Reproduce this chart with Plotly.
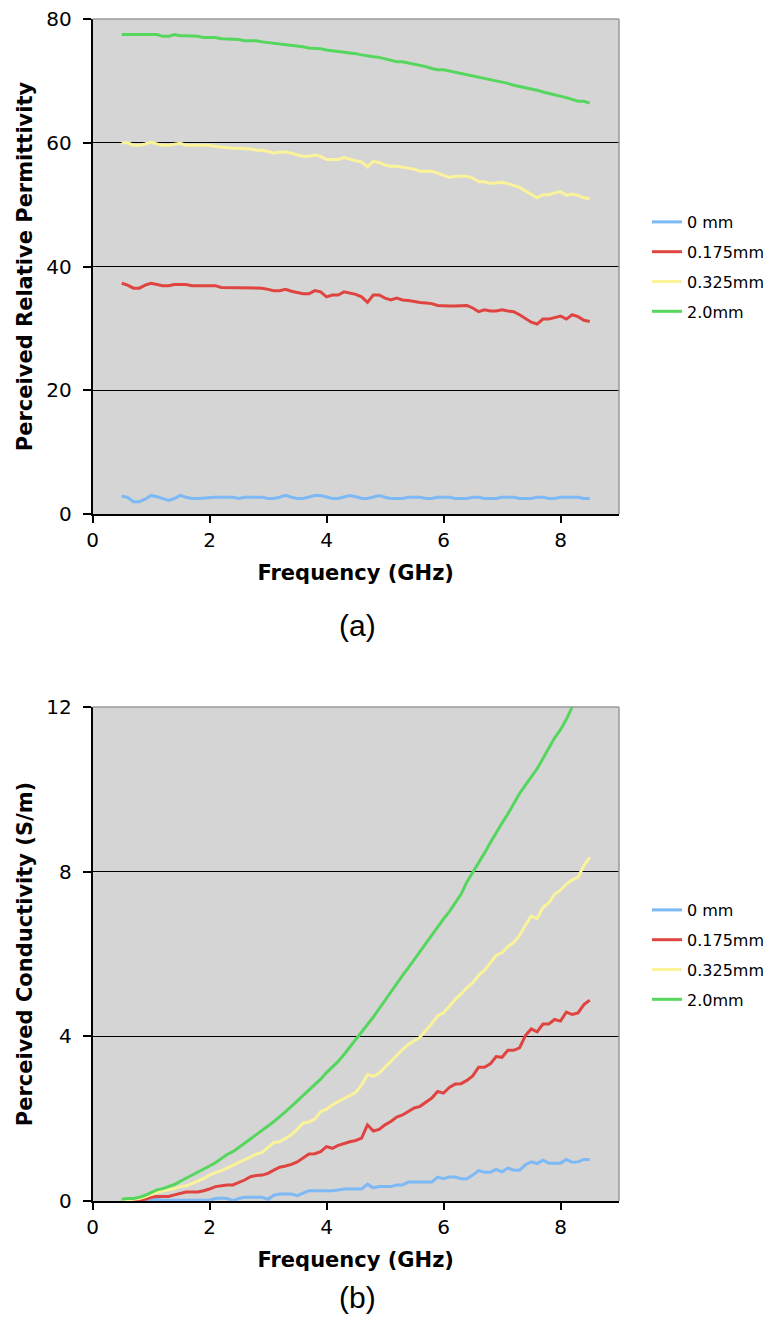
import plotly.graph_objects as go

# ---------------- data ----------------
freq = [0.5, 0.6, 0.7, 0.8, 0.9, 1.0, 1.1, 1.2, 1.3, 1.4,
        1.5, 1.6, 1.7, 1.8, 1.9, 2.0, 2.1, 2.2, 2.3, 2.4,
        2.5, 2.6, 2.7, 2.8, 2.9, 3.0, 3.1, 3.2, 3.3, 3.4,
        3.5, 3.6, 3.7, 3.8, 3.9, 4.0, 4.1, 4.2, 4.3, 4.4,
        4.5, 4.6, 4.7, 4.8, 4.9, 5.0, 5.1, 5.2, 5.3, 5.4,
        5.5, 5.6, 5.7, 5.8, 5.9, 6.0, 6.1, 6.2, 6.3, 6.4,
        6.5, 6.6, 6.7, 6.8, 6.9, 7.0, 7.1, 7.2, 7.3, 7.4,
        7.5, 7.6, 7.7, 7.8, 7.9, 8.0, 8.1, 8.2, 8.3, 8.4,
        8.5]

series_names = ["0 mm", "0.175mm", "0.325mm", "2.0mm"]

# (a) perceived relative permittivity
perm_0mm = [2.9, 2.7, 2.0, 2.0, 2.4, 3.0, 2.8, 2.5, 2.2, 2.5,
            3.0, 2.7, 2.5, 2.5, 2.6, 2.7, 2.7, 2.7, 2.7, 2.7,
            2.5, 2.7, 2.7, 2.7, 2.7, 2.5, 2.5, 2.7, 3.0, 2.7,
            2.5, 2.5, 2.7, 3.0, 3.0, 2.8, 2.5, 2.5, 2.7, 3.0,
            2.8, 2.5, 2.5, 2.7, 3.0, 2.7, 2.5, 2.5, 2.5, 2.7,
            2.7, 2.7, 2.5, 2.5, 2.7, 2.7, 2.7, 2.5, 2.5, 2.5,
            2.7, 2.7, 2.5, 2.5, 2.5, 2.7, 2.7, 2.7, 2.5, 2.5,
            2.5, 2.7, 2.7, 2.5, 2.5, 2.7, 2.7, 2.7, 2.7, 2.5,
            2.5]
perm_0175 = [37.3, 37.0, 36.5, 36.5, 37.0, 37.3, 37.1, 36.9, 36.9, 37.1,
             37.1, 37.1, 36.9, 36.9, 36.9, 36.9, 36.9, 36.6, 36.6, 36.6,
             36.6, 36.6, 36.6, 36.6, 36.5, 36.3, 36.1, 36.1, 36.3, 36.0,
             35.8, 35.6, 35.6, 36.1, 35.9, 35.1, 35.4, 35.4, 35.9, 35.7,
             35.5, 35.1, 34.2, 35.4, 35.4, 34.9, 34.6, 34.9, 34.6, 34.5,
             34.3, 34.2, 34.1, 34.0, 33.7, 33.6, 33.6, 33.6, 33.7, 33.7,
             33.3, 32.7, 33.0, 32.8, 32.8, 33.0, 32.8, 32.7, 32.2, 31.6,
             31.0, 30.7, 31.5, 31.5, 31.8, 32.0, 31.5, 32.2, 31.9, 31.3,
             31.1]
perm_0325 = [60.0, 60.0, 59.6, 59.6, 59.8, 60.1, 59.8, 59.6, 59.6, 59.8,
             59.9, 59.6, 59.6, 59.6, 59.6, 59.6, 59.4, 59.3, 59.1, 59.1,
             59.1, 59.1, 59.0, 58.8, 58.8, 58.6, 58.3, 58.5, 58.5, 58.3,
             58.1, 57.8, 57.8, 58.0, 57.8, 57.3, 57.3, 57.3, 57.6, 57.3,
             57.1, 56.9, 56.1, 57.0, 56.8, 56.4, 56.2, 56.2, 56.1, 55.9,
             55.7, 55.4, 55.4, 55.4, 55.1, 54.8, 54.4, 54.6, 54.6, 54.6,
             54.3, 53.7, 53.7, 53.4, 53.5, 53.6, 53.4, 53.1, 52.8, 52.2,
             51.6, 51.1, 51.6, 51.6, 51.9, 52.1, 51.5, 51.7, 51.5, 51.1,
             51.0]
perm_20 = [77.5, 77.5, 77.5, 77.5, 77.5, 77.5, 77.5, 77.2, 77.2, 77.5,
           77.3, 77.3, 77.3, 77.2, 77.0, 77.0, 77.0, 76.8, 76.8, 76.8,
           76.7, 76.5, 76.5, 76.5, 76.3, 76.2, 76.1, 76.0, 75.9, 75.7,
           75.6, 75.5, 75.3, 75.3, 75.2, 75.0, 74.9, 74.8, 74.6, 74.5,
           74.4, 74.2, 74.0, 73.9, 73.8, 73.6, 73.3, 73.1, 73.1, 72.9,
           72.8, 72.5, 72.3, 72.0, 71.8, 71.8, 71.6, 71.4, 71.2, 71.0,
           70.9, 70.7, 70.5, 70.3, 70.0, 69.9, 69.6, 69.3, 69.1, 68.9,
           68.8, 68.5, 68.2, 68.0, 67.8, 67.5, 67.3, 67.0, 66.7, 66.7,
           66.4]

# (b) perceived conductivity (S/m)
cond_0mm = [0.0, 0.0, 0.0, 0.0, 0.0, 0.02, 0.04, 0.02, 0.02, 0.02,
            0.02, 0.02, 0.02, 0.02, 0.02, 0.02, 0.06, 0.07, 0.06, 0.01,
            0.06, 0.09, 0.09, 0.09, 0.09, 0.04, 0.14, 0.17, 0.17, 0.17,
            0.13, 0.19, 0.25, 0.25, 0.25, 0.25, 0.25, 0.27, 0.29, 0.29,
            0.29, 0.29, 0.41, 0.32, 0.35, 0.35, 0.35, 0.39, 0.39, 0.46,
            0.46, 0.46, 0.46, 0.46, 0.58, 0.54, 0.58, 0.58, 0.54, 0.54,
            0.63, 0.74, 0.70, 0.70, 0.77, 0.71, 0.80, 0.75, 0.75, 0.88,
            0.95, 0.91, 0.99, 0.92, 0.92, 0.92, 1.01, 0.94, 0.95, 1.01,
            1.01]
cond_0175 = [0.0, 0.0, 0.01, 0.02, 0.04, 0.09, 0.11, 0.11, 0.11, 0.15,
             0.19, 0.22, 0.22, 0.22, 0.25, 0.29, 0.35, 0.37, 0.39, 0.39,
             0.45, 0.51, 0.59, 0.62, 0.63, 0.67, 0.75, 0.82, 0.85, 0.89,
             0.95, 1.04, 1.14, 1.15, 1.20, 1.32, 1.28, 1.35, 1.40, 1.44,
             1.47, 1.53, 1.85, 1.70, 1.74, 1.85, 1.93, 2.04, 2.09, 2.17,
             2.26, 2.30, 2.39, 2.50, 2.66, 2.62, 2.76, 2.84, 2.85, 2.93,
             3.04, 3.25, 3.25, 3.33, 3.51, 3.49, 3.66, 3.66, 3.72, 4.02,
             4.18, 4.11, 4.30, 4.30, 4.41, 4.37, 4.59, 4.53, 4.57, 4.77,
             4.88]
cond_0325 = [0.02, 0.02, 0.04, 0.06, 0.10, 0.16, 0.21, 0.24, 0.27, 0.30,
             0.35, 0.37, 0.42, 0.48, 0.55, 0.63, 0.69, 0.73, 0.80, 0.86,
             0.93, 1.01, 1.08, 1.14, 1.18, 1.30, 1.42, 1.44, 1.53, 1.61,
             1.74, 1.89, 1.92, 1.99, 2.17, 2.23, 2.34, 2.42, 2.50, 2.56,
             2.64, 2.82, 3.07, 3.03, 3.11, 3.25, 3.39, 3.55, 3.68, 3.80,
             3.88, 3.98, 4.15, 4.31, 4.50, 4.57, 4.73, 4.90, 5.03, 5.18,
             5.30, 5.48, 5.60, 5.78, 5.97, 6.03, 6.18, 6.28, 6.45, 6.70,
             6.92, 6.86, 7.13, 7.24, 7.45, 7.55, 7.70, 7.80, 7.87, 8.15,
             8.35]
cond_20 = [0.04, 0.06, 0.06, 0.09, 0.14, 0.20, 0.27, 0.30, 0.35, 0.40,
           0.48, 0.55, 0.63, 0.70, 0.78, 0.85, 0.93, 1.03, 1.13, 1.20,
           1.30, 1.40, 1.50, 1.60, 1.70, 1.82, 1.93, 2.04, 2.17, 2.30,
           2.43, 2.56, 2.69, 2.82, 2.96, 3.12, 3.25, 3.39, 3.56, 3.74,
           3.92, 4.10, 4.28, 4.47, 4.67, 4.88, 5.08, 5.30, 5.48, 5.67,
           5.86, 6.05, 6.25, 6.44, 6.65, 6.85, 7.03, 7.24, 7.45, 7.75,
           7.98, 8.20, 8.45, 8.70, 8.95, 9.18, 9.40, 9.65, 9.90, 10.10,
           10.30, 10.50, 10.75, 11.00, 11.25, 11.45, 11.70, 12.00, 12.30, 12.60,
           12.90]

x_ticks = [0, 2, 4, 6, 8]
perm_ticks = [0, 20, 40, 60, 80]
cond_ticks = [0, 4, 8, 12]

# ---------------- styling ----------------
colors = ["#7db9f5", "#df4440", "#fbf39a", "#55d65d"]
# the page body has an 8px margin, so the figure is 16px smaller than the window
W, H = 763, 1308
OFF = 8  # page -> figure coordinate offset
FONT = "DejaVu Sans"
BG = "#d5d5d5"

def px_x(page_x):
    return (page_x - OFF) / W

def px_y(page_y):
    return 1 - (page_y - OFF) / H

fig = go.Figure()

perm_series = [perm_0mm, perm_0175, perm_0325, perm_20]
cond_series = [cond_0mm, cond_0175, cond_0325, cond_20]

for i, (name, ys) in enumerate(zip(series_names, perm_series)):
    fig.add_trace(go.Scatter(x=freq, y=ys, mode="lines", name=name,
                             line=dict(color=colors[i], width=3),
                             xaxis="x", yaxis="y", legend="legend",
                             legendgroup="a" + str(i)))
for i, (name, ys) in enumerate(zip(series_names, cond_series)):
    fig.add_trace(go.Scatter(x=freq, y=ys, mode="lines", name=name,
                             line=dict(color=colors[i], width=3),
                             xaxis="x2", yaxis="y2", legend="legend2",
                             legendgroup="b" + str(i)))

xdom = [px_x(92.5), px_x(619)]
ydom_a = [px_y(514), px_y(19)]
ydom_b = [px_y(1201), px_y(707)]

def xax(anchor):
    return dict(domain=xdom, anchor=anchor, range=[0, 9], tickvals=x_ticks,
                showgrid=False, zeroline=False, showline=True,
                linecolor="black", linewidth=1.5, ticks="outside", ticklen=7,
                tickcolor="black", tickwidth=1.5, automargin=False,
                ticklabeloverflow="allow",
                tickfont=dict(family=FONT, size=20, color="black"),
                title=dict(text="<b>Frequency (GHz)</b>", standoff=15,
                           font=dict(family=FONT, size=21, color="black")))

def yax(anchor, dom, rng, tv, title):
    return dict(domain=dom, anchor=anchor, range=rng, tickvals=tv,
                showgrid=True, gridcolor="black", gridwidth=1.2,
                zeroline=False, showline=True, linecolor="black",
                linewidth=1.5, ticks="outside", ticklen=8, tickcolor="black",
                tickwidth=1.5, ticklabelstandoff=7, automargin=False,
                ticklabeloverflow="allow",
                tickfont=dict(family=FONT, size=20, color="black"),
                title=dict(text="<b>" + title + "</b>", standoff=8,
                           font=dict(family=FONT, size=21, color="black")))

leg_common = dict(font=dict(family=FONT, size=16, color="black"),
                  bgcolor="rgba(0,0,0,0)", borderwidth=0,
                  traceorder="grouped", tracegroupgap=6, itemwidth=30,
                  xanchor="left", yanchor="middle", x=px_x(647))

fig.update_layout(
    width=W, height=H,
    margin=dict(l=0, r=0, t=0, b=0, autoexpand=False),
    paper_bgcolor="white", plot_bgcolor=BG,
    showlegend=True,
    xaxis=xax("y"),
    yaxis=yax("x", ydom_a, [0, 80], perm_ticks, "Perceived Relative Permittivity"),
    xaxis2=xax("y2"),
    yaxis2=yax("x2", ydom_b, [0, 12], cond_ticks, "Perceived Conductivity (S/m)"),
    legend=dict(y=px_y(267), **leg_common),
    legend2=dict(y=px_y(955), **leg_common),
)

# plot-area frame (grey top/right border as in the original)
for xr, yr in (("x domain", "y domain"), ("x2 domain", "y2 domain")):
    fig.add_shape(type="line", xref=xr, yref=yr, x0=0, x1=1, y0=1, y1=1,
                  line=dict(color="#9a9a9a", width=1.5), layer="above")
    fig.add_shape(type="line", xref=xr, yref=yr, x0=1, x1=1, y0=0, y1=1,
                  line=dict(color="#9a9a9a", width=1.5), layer="above")

# panel captions
fig.add_annotation(text="(a)", xref="paper", yref="paper", x=px_x(357),
                   y=px_y(626), showarrow=False, xanchor="center",
                   yanchor="middle",
                   font=dict(family="Liberation Sans", size=30, color="black"))
fig.add_annotation(text="(b)", xref="paper", yref="paper", x=px_x(357),
                   y=px_y(1297), showarrow=False, xanchor="center",
                   yanchor="middle",
                   font=dict(family="Liberation Sans", size=30, color="black"))

fig.write_html("out.html")
